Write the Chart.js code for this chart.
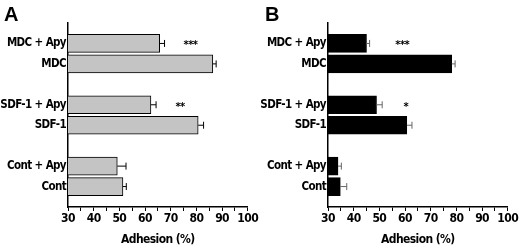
<!DOCTYPE html>
<html>
<head>
<meta charset="utf-8">
<script src="https://cdn.jsdelivr.net/npm/chart.js@4.4.0/dist/chart.umd.min.js"></script>
<style>
  body { margin: 0; background: #fff; }
  .wrap { position: relative; width: 520px; height: 251px; }
  .panel { position: absolute; top: 0; width: 260px; height: 251px; }
  .letter { position: absolute; top: 3px; font: bold 20px "Liberation Sans", Arial, sans-serif; }
</style>
</head>
<body>
<div class="wrap">
  <div class="panel" style="left:0"><canvas id="chartA"></canvas></div>
  <div class="panel" style="left:260px"><canvas id="chartB"></canvas></div>
  <div class="letter" style="left:4px">A</div>
  <div class="letter" style="left:265px">B</div>
</div>
<script>
// categories, blank entries are the gaps between groups
var groups = ['', 'MDC + Apy', 'MDC', '', 'SDF-1 + Apy', 'SDF-1', '', 'Cont + Apy', 'Cont', ''];

// panel A
var adhesionA = [null, 65.7, 86.4, null, 62.3, 80.7, null, 49.2, 51.4, null];
var errorA    = [null, 1.9, 1.3, null, 2.0, 2.1, null, 3.4, 1.3, null];
var starsA    = [null, '***', null, null, '**', null, null, null, null, null];
var starXA    = [null, 77.7, null, null, 73.6, null, null, null, null, null];

// panel B
var adhesionB = [null, 45.0, 78.2, null, 48.9, 60.7, null, 33.9, 34.8, null];
var errorB    = [null, 1.2, 1.3, null, 2.2, 2.0, null, 1.3, 2.5, null];
var starsB    = [null, '***', null, null, '*', null, null, null, null, null];
var starXB    = [null, 58.9, null, null, 60.3, null, null, null, null, null];

var xTicks = [30, 40, 50, 60, 70, 80, 90, 100];

var condensed = '"DejaVu Sans Condensed", "DejaVu Sans", sans-serif';

// error bars + significance stars, positioned via the chart scales
var extrasPlugin = {
    id: 'extras',
    beforeDraw: function(chart) {
        // squeeze the lettering like the original figure
        chart.ctx.letterSpacing = '-0.6px';
    },
    afterDatasetsDraw: function(chart, args, opts) {
        var ctx = chart.ctx;
        var xs = chart.scales.x;
        var meta = chart.getDatasetMeta(0);
        var vals = chart.data.datasets[0].data;
        ctx.save();
        ctx.strokeStyle = opts.errColor;
        ctx.lineWidth = 1;
        meta.data.forEach(function(bar, i) {
            if (vals[i] == null) return;
            var x0 = xs.getPixelForValue(vals[i]);
            var x1 = xs.getPixelForValue(vals[i] + opts.err[i]);
            var y = bar.y;
            ctx.beginPath();
            ctx.moveTo(x0, y);
            ctx.lineTo(x1, y);
            ctx.moveTo(x1, y - 3.5);
            ctx.lineTo(x1, y + 3.5);
            ctx.stroke();
        });
        ctx.fillStyle = '#000';
        ctx.font = 'bold 11px ' + condensed;
        ctx.textAlign = 'center';
        ctx.textBaseline = 'middle';
        opts.stars.forEach(function(s, i) {
            if (!s) return;
            var bar = meta.data[i];
            ctx.fillText(s, xs.getPixelForValue(opts.starX[i]), bar.y + 2);
        });
        ctx.restore();
    }
};

function drawPanel(id, values, errs, stars, starX, fill, errColor) {
    var ctx = document.getElementById(id);
    return new Chart(ctx, {
        type: 'bar',
        data: {
            labels: groups,
            datasets: [{
                data: values,
                backgroundColor: fill,
                borderColor: '#000',
                borderWidth: 1,
                barThickness: 18
            }]
        },
        plugins: [extrasPlugin],
        options: {
            indexAxis: 'y',
            responsive: false,
            animation: false,
            layout: { padding: { top: 23, right: 12, bottom: 0, left: 0 } },
            plugins: {
                legend: { display: false },
                tooltip: { enabled: false },
                extras: { err: errs, stars: stars, starX: starX, errColor: errColor }
            },
            scales: {
                y: {
                    type: 'category',
                    offset: false,
                    afterFit: function(scale) { scale.width = 68; },
                    grid: { display: false, drawTicks: false },
                    border: { display: true, color: '#000', width: 1.5 },
                    ticks: {
                        color: '#000',
                        font: { family: condensed, weight: 'bold', size: 11.5 },
                        padding: 2,
                        autoSkip: false
                    }
                },
                x: {
                    min: 30,
                    max: 100,
                    afterFit: function(scale) { scale.height = 44; },
                    afterBuildTicks: function(scale) {
                        var t = [];
                        for (var v = 30; v <= 100; v += 5) t.push({ value: v });
                        scale.ticks = t;
                    },
                    grid: {
                        drawOnChartArea: false,
                        drawTicks: true,
                        tickLength: 4,
                        color: '#000',
                        tickWidth: 1
                    },
                    border: { display: true, color: '#000', width: 1.5 },
                    ticks: {
                        color: '#000',
                        font: { family: condensed, weight: 'bold', size: 12 },
                        padding: 1,
                        maxRotation: 0,
                        autoSkip: false,
                        callback: function(v) { return xTicks.indexOf(v) >= 0 ? v : ''; }
                    },
                    title: {
                        display: true,
                        text: 'Adhesion (%)',
                        color: '#000',
                        font: { family: condensed, weight: 'bold', size: 12 },
                        padding: { top: 0, bottom: 4 }
                    }
                }
            }
        }
    });
}

var ca = document.getElementById('chartA');
var cb = document.getElementById('chartB');
ca.width = 260; ca.height = 251;
cb.width = 260; cb.height = 251;

drawPanel('chartA', adhesionA, errorA, starsA, starXA, '#c4c4c4', '#000');
drawPanel('chartB', adhesionB, errorB, starsB, starXB, '#000', '#666');
</script>
</body>
</html>
